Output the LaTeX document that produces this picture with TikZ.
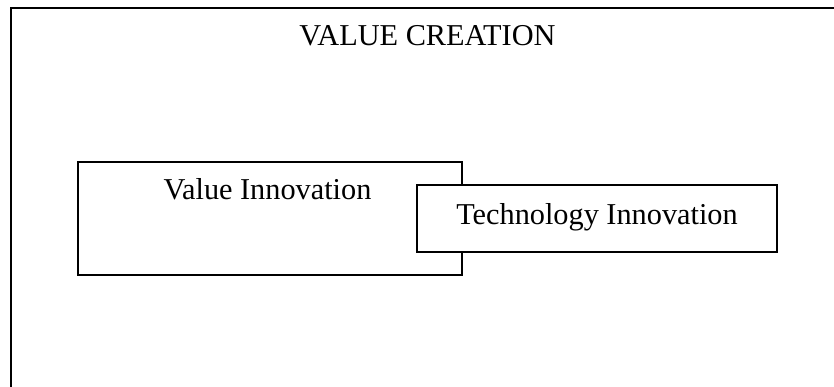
\documentclass[tikz,border=0pt]{standalone}
\usepackage{fontspec}
\setmainfont{Liberation Serif}
\begin{document}
\begin{tikzpicture}[x=1pt,y=-1pt,
  frameline/.style={line width=2pt},
  boxnode/.style={draw=black,line width=1.6pt,fill=white,inner sep=0pt,rectangle},
  lab/.style={inner sep=0pt,anchor=base,font=\fontsize{30.3}{36}\selectfont}]
\useasboundingbox (0,0) rectangle (834,387);
\coordinate (ftl) at (11,8);
\coordinate (ftr) at (835,8);
\coordinate (fbl) at (11,388);
\draw[frameline,line cap=rect] (ftr) -- (ftl) -- (fbl);
\node[lab] (vc) at (427.5,46) {VALUE CREATION};
\node[boxnode,minimum width=384pt,minimum height=113pt] (vibox) at (270,218.5) {};
\node[lab] (vi) at (267.5,200) {Value Innovation};
\node[boxnode,minimum width=360pt,minimum height=67pt] (tibox) at (597,218.5) {};
\node[lab] (ti) at (597,225) {Technology Innovation};
\end{tikzpicture}
\end{document}
